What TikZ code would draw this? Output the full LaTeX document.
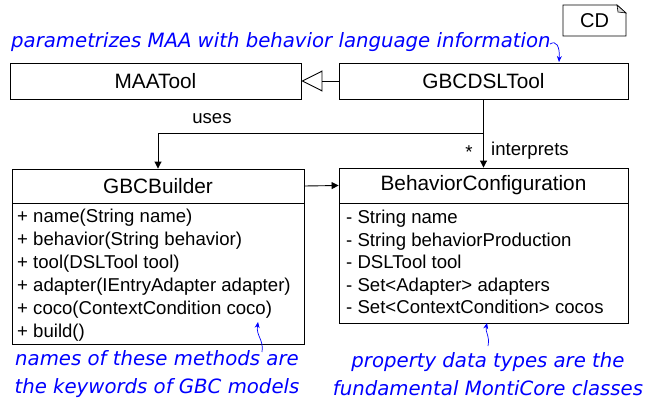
\documentclass[tikz,border=0pt]{standalone}
\usepackage{fontspec}
\setmainfont{Liberation Sans}
\newfontfamily\annofont{DejaVu Sans}
\usetikzlibrary{arrows.meta}
\begin{document}
\begin{tikzpicture}[x=1pt,y=-1pt,
  cls/.style={draw, line width=0.9pt, inner sep=0pt, font=\fontsize{20.8}{24}\selectfont},
  bodybox/.style={draw, line width=0.9pt, inner sep=0pt, anchor=north west},
  mem/.style={anchor=base west, inner sep=0pt, font=\fontsize{18.6}{22}\selectfont},
  lbl/.style={inner sep=0pt, font=\fontsize{18.6}{22}\selectfont},
  anno/.style={inner sep=0pt, text=blue, font=\annofont\itshape\fontsize{19.7}{24}\selectfont},
  conn/.style={line width=0.9pt},
  curl/.style={blue, line width=0.7pt, -{Stealth[length=6pt,width=5pt]}}
]
\useasboundingbox (0,0) rectangle (650,404);

% note
\draw[line width=0.8pt] (563,5) -- (617,5) -- (626,13) -- (626,36) -- (563,36) -- cycle;
\draw[line width=0.6pt, fill=gray!30] (617,5) -- (618,12) -- (626,13) -- cycle;
\node[lbl, font=\fontsize{20}{24}\selectfont] (cd) at (594.5,21) {CD};

% classes
\node[cls, minimum width=291pt, minimum height=36pt] (maa) at (155.5,81) {MAATool};
\node[cls, minimum width=289pt, minimum height=36pt] (gbcdsl) at (483.5,81) {GBCDSLTool};
\node[cls, minimum width=292pt, minimum height=34pt] (builder) at (158,186) {GBCBuilder};
\node[bodybox, minimum width=292pt, minimum height=141pt] (bbody) at (builder.south west) {};
\node[cls, minimum width=289pt, minimum height=35pt] (bc) at (483.5,185.5) {BehaviorConfiguration};
\node[bodybox, minimum width=289pt, minimum height=120pt] (cbody) at (bc.south west) {};

% members
\foreach \t [count=\i] in {{+ name(String name)},{+ behavior(String behavior)},{+ tool(DSLTool tool)},{+ adapter(IEntryAdapter adapter)},{+ coco(ContextCondition coco)},{+ build()}}
  \node[mem] (bm\i) at (17,{216+6.5+(\i-1)*23}) {\t};
\foreach \t [count=\i] in {{- String name},{- String behaviorProduction},{- DSLTool tool},{- Set<Adapter> adapters},{- Set<ContextCondition> cocos}}
  \node[mem] (cm\i) at (346,{217+6.5+(\i-1)*22.6}) {\t};

% connectors
\draw[conn, -{Triangle[open, length=21pt, width=21pt]}] (gbcdsl.west) -- (maa.east);
\draw[conn, -{Triangle[length=7pt, width=7pt]}] (builder.east) -- (bc.west);
\draw[conn, -{Triangle[length=7pt, width=7pt]}] (gbcdsl.south) -- (bc.north);
\coordinate (j) at (483.5,133);
\draw[conn, -{Triangle[length=7pt, width=7pt]}] (j) -| (builder.north);
\node[lbl] (uses) at (212,119) {uses};
\node[lbl] (star) at (469,152) {*};
\node[lbl] (interp) at (530,151) {interprets};

% annotations
\node[anno, anchor=west] (a1) at (11,42) {parametrizes MAA with behavior language information};
\node[anno, align=center, font=\annofont\itshape\fontsize{19.7}{28}\selectfont] (a2) at (157,374) {names of these methods are\\the keywords of GBC models};
\node[anno, align=center, font=\annofont\itshape\fontsize{19.7}{28}\selectfont] (a3) at (488,374) {property data types are the\\fundamental MontiCore classes};

\coordinate (s1) at (550,44);
\coordinate (t1) at (559,62);
\coordinate (s2) at (262,352);
\coordinate (t2) at (258,322);
\coordinate (s3) at (488,346);
\coordinate (t3) at (487,323);
\draw[curl] (s1) .. controls (556,40) and (560,46) .. (t1);
\draw[curl] (s2) .. controls (264,340) and (256,336) .. (t2);
\draw[curl] (s3) .. controls (490,336) and (485,332) .. (t3);
\end{tikzpicture}
\end{document}
